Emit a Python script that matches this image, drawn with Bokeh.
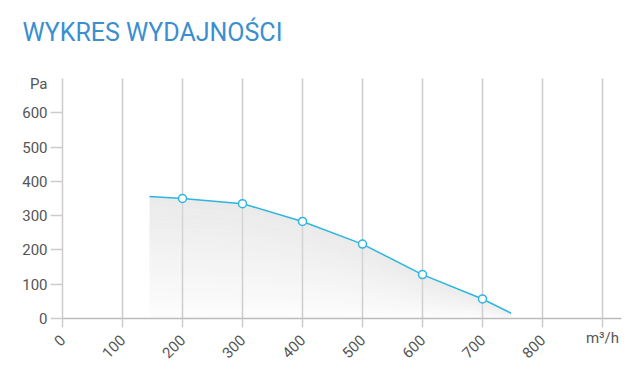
import math
from bokeh.plotting import figure
from bokeh.models import Range1d, FixedTicker, Label
from bokeh.embed import file_html
from bokeh.resources import INLINE

# data
flow = [145, 200, 300, 400, 500, 600, 700, 748]
pressure = [356, 350, 335, 283, 217, 128, 57, 15]
marker_flow = [200, 300, 400, 500, 600, 700]
marker_pressure = [350, 335, 283, 217, 128, 57]
x_ticks = [0, 100, 200, 300, 400, 500, 600, 700, 800, 900]
y_ticks = [0, 100, 200, 300, 400, 500, 600]
x_max = 900
y_max = 700
title_text = "WYKRES WYDAJNOŚCI"
x_unit = "m³/h"
y_unit = "Pa"

# layout (pixels)
W, H = 641, 380
LEFT, RIGHT_X = 62, 602     # pixel of x=0 and x=900
BOTTOM, TOP_Y = 318, 78     # pixel (from top) of y=0 and y=700
xs = (RIGHT_X - LEFT) / x_max
ys = (BOTTOM - TOP_Y) / y_max

FONT = "Roboto"
LINE = "#2bb5df"
GRID = "#cccccc"
LABEL = "#555555"

p = figure(width=W, height=H, output_backend="svg", toolbar_location=None,
           x_range=Range1d(-LEFT / xs, (W - LEFT) / xs),
           y_range=Range1d(-(H - BOTTOM) / ys, BOTTOM / ys),
           min_border=0, min_border_left=0, min_border_right=0,
           min_border_top=0, min_border_bottom=0)
p.outline_line_color = None
p.background_fill_color = "white"
p.border_fill_color = "white"
p.xgrid.grid_line_color = None
p.ygrid.grid_line_color = None

# vertical grid lines
p.segment(x0=x_ticks, y0=[0] * len(x_ticks), x1=x_ticks, y1=[y_max] * len(x_ticks),
          line_color=GRID, line_width=1.5)

# gradient-like fill under curve
N = 24
for k in range(N):
    lo = [v * k / N for v in pressure]
    hi = [v * (k + 1) / N for v in pressure]
    p.varea(x=flow, y1=lo, y2=hi, fill_color="#dcdcdc", fill_alpha=0.05 + 0.55 * (k + 1) / N)

p.line(flow, pressure, line_color=LINE, line_width=1.5)
p.scatter(marker_flow, marker_pressure, marker="circle", size=8, fill_color="white",
          line_color=LINE, line_width=1.5)

xa = p.xaxis[0]
xa.fixed_location = 0
xa.bounds = (0, 932)
xa.ticker = FixedTicker(ticks=x_ticks)
xa.major_label_overrides = {900: ""}
xa.major_label_orientation = math.pi / 4
xa.axis_line_color = "#bbbbbb"
xa.axis_line_width = 1.5
xa.major_tick_line_color = GRID
xa.major_tick_line_width = 1.5
xa.major_tick_out = 9
xa.major_tick_in = 0
xa.minor_tick_line_color = None
xa.major_label_text_font = FONT
xa.major_label_text_font_size = "15px"
xa.major_label_text_color = LABEL
xa.major_label_standoff = 10

ya = p.yaxis[0]
ya.fixed_location = 0
ya.ticker = FixedTicker(ticks=y_ticks)
ya.axis_line_color = None
ya.major_tick_line_color = GRID
ya.major_tick_line_width = 1.5
ya.major_tick_out = 12
ya.major_tick_in = 0
ya.minor_tick_line_color = None
ya.major_label_text_font = FONT
ya.major_label_text_font_size = "15px"
ya.major_label_text_color = LABEL
ya.major_label_standoff = 3

p.add_layout(Label(x=0, y=y_max, text=y_unit, x_offset=-15, y_offset=-5,
                   text_align="right", text_baseline="middle",
                   text_font=FONT, text_font_size="15px", text_color=LABEL))
p.add_layout(Label(x=x_max, y=0, text=x_unit, y_offset=-19,
                   text_align="center", text_baseline="middle",
                   text_font=FONT, text_font_size="15px", text_color=LABEL))
p.add_layout(Label(x=22, y=H - 32, x_units="screen", y_units="screen", text=title_text,
                   text_align="left", text_baseline="alphabetic",
                   text_font=FONT, text_font_size="25px", text_color="#3b8fd0"))

open("out.html", "w").write(file_html(p, INLINE))
